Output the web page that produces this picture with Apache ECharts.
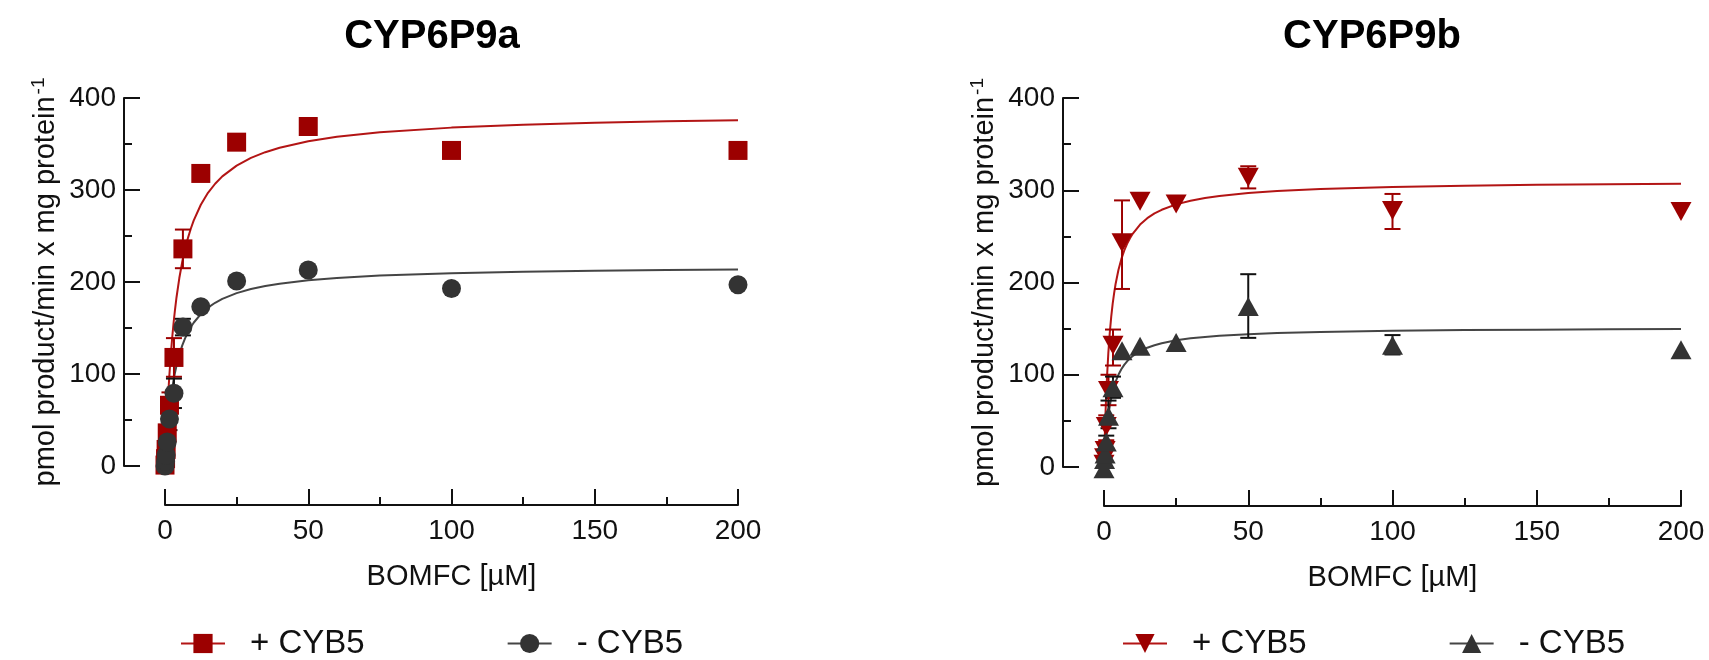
<!DOCTYPE html>
<html><head><meta charset="utf-8">
<script src="https://cdn.jsdelivr.net/npm/echarts@6/dist/echarts.min.js"></script>
<style>html,body{margin:0;padding:0;background:#fff}#c{width:1709px;height:660px}</style>
</head><body><div id="c"></div>
<script>
// ---- data ----
const conc = [0, 0.195, 0.39, 0.78, 1.56, 3.125, 6.25, 12.5, 25, 50, 100, 200];
// CYP6P9a
const aPlus  = [1, 8, 18, 36, 66, 118, 236, 318, 352, 369, 343, 343];
const aMinus = [0, 5, 12, 26, 51, 79, 151, 173, 201, 213, 193, 197];
const aPlusErrX  = [0.78, 1.56, 3.125, 6.25];
const aPlusErrLo = [30, 52, 97, 215];
const aPlusErrHi = [42, 80, 139, 257];
const aMinusErrX  = [0.78, 1.56, 3.125, 6.25];
const aMinusErrLo = [20, 39, 63, 142];
const aMinusErrHi = [32, 63, 95, 160];
// CYP6P9b
const bPlus  = [3, 10, 18, 44, 83, 132, 243, 288, 285, 314, 278, 277];
const bMinus = [-2, 8, 14, 27, 55, 86, 126, 131, 135, 174, 132, 127];
const bPlusErrX  = [0.78, 1.56, 3.125, 6.25, 50, 100];
const bPlusErrLo = [29, 67, 110, 193, 302, 258];
const bPlusErrHi = [56, 100, 149, 289, 326, 296];
const bMinusErrX  = [0.78, 1.56, 3.125, 50, 100];
const bMinusErrLo = [20, 42, 75, 140, 122];
const bMinusErrHi = [34, 72, 98, 209, 143];
// fitted curves
const fitX = [0, 0.25, 0.5, 0.75, 1, 1.5, 2, 2.5, 3, 3.5, 4, 5, 6, 7, 8, 9, 10, 12.5, 15, 17.5, 20, 25, 30, 35, 40, 50, 60, 75, 100, 125, 150, 175, 200];
const aPlusFit  = [0, 20.6, 39.2, 55.9, 71.1, 97.6, 120, 139.1, 155.7, 170.1, 182.9, 204.3, 221.5, 235.8, 247.7, 257.9, 266.7, 284, 296.9, 306.8, 314.8, 326.5, 334.9, 341.1, 345.9, 352.9, 357.8, 362.7, 367.8, 370.9, 373.1, 374.6, 375.7];
const aMinusFit = [0, 12.8, 24.2, 34.4, 43.6, 59.5, 72.7, 83.8, 93.4, 101.7, 109, 121.1, 130.8, 138.7, 145.3, 150.9, 155.7, 165.2, 172.1, 177.4, 181.7, 187.9, 192.4, 195.6, 198.2, 201.9, 204.4, 207, 209.6, 211.2, 212.3, 213.1, 213.7];
const bPlusFit  = [0, 30.8, 56, 77.1, 95, 123.5, 145.4, 162.7, 176.8, 188.3, 198.1, 213.6, 225.3, 234.5, 241.9, 248, 253.1, 262.8, 269.7, 274.9, 278.8, 284.7, 288.7, 291.6, 293.8, 297, 299.2, 301.4, 303.6, 305, 305.9, 306.5, 307];
const bMinusFit = [0, 13.4, 24.7, 34.2, 42.4, 55.8, 66.3, 74.7, 81.5, 87.3, 92.2, 100, 106, 110.7, 114.6, 117.8, 120.4, 125.6, 129.3, 132, 134.2, 137.3, 139.5, 141, 142.3, 144, 145.2, 146.4, 147.6, 148.4, 148.8, 149.2, 149.5];
const titles = ['CYP6P9a', 'CYP6P9b'];
const legendLabels = {aP: '+ CYB5', aM: '- CYB5', bP: '+ CYB5', bM: '- CYB5'};
const xTitle = 'BOMFC [µM]';
const yTitle = 'pmol product/min x mg protein{s|-1}';

// ---- styling ----
const FONT = "'Liberation Sans', Arial, Helvetica, sans-serif";
const RED = '#9c0000', RED_LINE = '#b31515', GRAY = '#333333', GRAY_LINE = '#454545', BLACK = '#111111';
const DOWN_TRI = 'path://M0,0L20,0L10,17Z';

const zip = (xs, ys) => xs.map((x, i) => [x, ys[i]]);
const zip3 = (xs, lo, hi) => xs.map((x, i) => [x, lo[i], hi[i]]);

function errRender(color) {
  return function (params, api) {
    const x = api.value(0), lo = api.value(1), hi = api.value(2);
    const p1 = api.coord([x, hi]), p2 = api.coord([x, lo]);
    const w = 8, st = {stroke: color, lineWidth: 2};
    return {type: 'group', children: [
      {type: 'line', shape: {x1: p1[0], y1: p1[1], x2: p2[0], y2: p2[1]}, style: st},
      {type: 'line', shape: {x1: p1[0] - w, y1: p1[1], x2: p1[0] + w, y2: p1[1]}, style: st},
      {type: 'line', shape: {x1: p2[0] - w, y1: p2[1], x2: p2[0] + w, y2: p2[1]}, style: st}
    ]};
  };
}

function xAxisFor(g) {
  return {
    gridIndex: g, type: 'value', min: 0, max: 200, interval: 50, position: 'bottom', offset: 39,
    axisLine: {show: true, onZero: false, lineStyle: {color: BLACK, width: 2}},
    axisTick: {show: true, inside: true, length: 16, lineStyle: {color: BLACK, width: 2}},
    minorTick: {show: true, splitNumber: 2, length: 8, lineStyle: {color: BLACK, width: 2}},
    splitLine: {show: false},
    axisLabel: {margin: 12, fontSize: 28, color: BLACK, fontFamily: FONT},
    name: xTitle, nameLocation: 'middle', nameGap: 57,
    nameTextStyle: {fontSize: 29, color: BLACK, fontFamily: FONT}
  };
}
function yAxisFor(g) {
  return {
    gridIndex: g, type: 'value', min: 0, max: 400, interval: 100, position: 'left', offset: 41,
    axisLine: {show: true, onZero: false, lineStyle: {color: BLACK, width: 2}},
    axisTick: {show: true, inside: true, length: 16, lineStyle: {color: BLACK, width: 2}},
    minorTick: {show: true, splitNumber: 2, length: 8, lineStyle: {color: BLACK, width: 2}},
    splitLine: {show: false},
    axisLabel: {margin: 8, fontSize: 28, color: BLACK, fontFamily: FONT},
    name: yTitle, nameLocation: 'middle', nameGap: 62, nameRotate: 90,
    nameTextStyle: {fontSize: 29, color: BLACK, fontFamily: FONT,
      rich: {s: {fontSize: 19, color: BLACK, fontFamily: FONT, verticalAlign: 'top', padding: [0, 0, 14, 2]}}}
  };
}
function curve(name, g, data, symbol, col, lcol) {
  return {name, type: 'line', xAxisIndex: g, yAxisIndex: g, data, symbol, symbolSize: 19, showSymbol: false,
    smooth: false, itemStyle: {color: col}, lineStyle: {color: lcol, width: 2},
    silent: true, z: 2};
}
function pts(name, g, data, symbol, col, size) {
  return {name, type: 'scatter', xAxisIndex: g, yAxisIndex: g, data, symbol, symbolSize: size,
    itemStyle: {color: col, opacity: 1}, clip: false, silent: true, z: 4};
}
function errs(name, g, data, col) {
  return {name, type: 'custom', xAxisIndex: g, yAxisIndex: g, data, renderItem: errRender(col),
    encode: {x: 0, y: [1, 2]}, clip: false, silent: true, z: 3};
}
function legendFor(left, names) {
  return {left, top: 627, padding: 0, itemWidth: 44, itemHeight: 24, itemGap: 142, selectedMode: false,
    data: names, formatter: n => legendLabels[n],
    textStyle: {fontSize: 33, color: BLACK, fontFamily: FONT, padding: [0, 0, 0, 20]}};
}

const chart = echarts.init(document.getElementById('c'), null, {renderer: 'canvas'});
chart.setOption({
  animation: false,
  backgroundColor: '#ffffff',
  title: [
    {text: titles[0], left: 432, top: 17, textAlign: 'center', padding: 0,
      textStyle: {fontSize: 40, fontWeight: 'bold', color: '#000', fontFamily: FONT}},
    {text: titles[1], left: 1372, top: 17, textAlign: 'center', padding: 0,
      textStyle: {fontSize: 40, fontWeight: 'bold', color: '#000', fontFamily: FONT}}
  ],
  grid: [
    {left: 165, top: 98, width: 573, height: 368},
    {left: 1104, top: 98, width: 577, height: 369}
  ],
  xAxis: [xAxisFor(0), xAxisFor(1)],
  yAxis: [yAxisFor(0), yAxisFor(1)],
  legend: [legendFor(180, ['aP', 'aM']), legendFor(1122, ['bP', 'bM'])],
  series: [
    curve('aP', 0, zip(fitX, aPlusFit), 'rect', RED, RED_LINE),
    curve('aM', 0, zip(fitX, aMinusFit), 'circle', GRAY, GRAY_LINE),
    errs('aPe', 0, zip3(aPlusErrX, aPlusErrLo, aPlusErrHi), RED),
    pts('aPp', 0, zip(conc, aPlus), 'rect', RED, 19),
    errs('aMe', 0, zip3(aMinusErrX, aMinusErrLo, aMinusErrHi), BLACK),
    pts('aMp', 0, zip(conc, aMinus), 'circle', GRAY, 19),

    curve('bP', 1, zip(fitX, bPlusFit), DOWN_TRI, RED, RED_LINE),
    curve('bM', 1, zip(fitX, bMinusFit), 'triangle', GRAY, GRAY_LINE),
    errs('bPe', 1, zip3(bPlusErrX, bPlusErrLo, bPlusErrHi), RED),
    pts('bPp', 1, zip(conc, bPlus), DOWN_TRI, RED, [21, 19]),
    errs('bMe', 1, zip3(bMinusErrX, bMinusErrLo, bMinusErrHi), BLACK),
    pts('bMp', 1, zip(conc, bMinus), 'triangle', GRAY, [21, 19])
  ]
});
</script>
</body></html>
